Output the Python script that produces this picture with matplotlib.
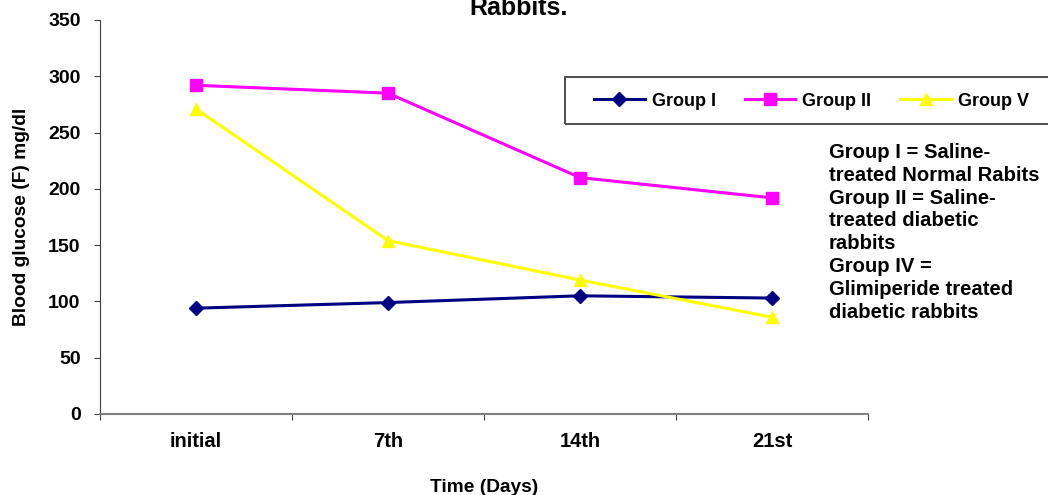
import matplotlib.pyplot as plt
from matplotlib.patches import Rectangle

plt.rcParams['font.family'] = ['Liberation Sans', 'DejaVu Sans']
plt.rcParams['font.weight'] = 'bold'

days = ['initial', '7th', '14th', '21st']
group_1 = [94, 99, 105, 103]
group_2 = [292, 285, 210, 192]
group_5 = [271, 154, 119, 86]

notes = ("Group I = Saline-\n"
         "treated Normal Rabits\n"
         "Group II = Saline-\n"
         "treated diabetic\n"
         "rabbits\n"
         "Group IV =\n"
         "Glimiperide treated\n"
         "diabetic rabbits")

W, H = 1048, 495
fig = plt.figure(figsize=(W / 100, H / 100), dpi=100)
ax = fig.add_axes([100 / W, 1 - 414 / H, 768 / W, 394 / H])

x = range(len(days))
ax.plot(x, group_1, color='#000080', marker='D', markersize=7, lw=2.2, label='Group I')
ax.plot(x, group_2, color='#FF00FF', marker='s', markersize=8, lw=2.2, label='Group II')
ax.plot(x, group_5, color='#FFFF00', marker='^', markersize=9, lw=2.2, label='Group V')

ax.set_xlim(-0.5, 3.5)
ax.set_ylim(0, 350)
ax.set_yticks(range(0, 351, 50))
# boundary ticks between categories, labels sit on the minor ticks
ax.set_xticks([-0.5, 0.5, 1.5, 2.5, 3.5])
ax.set_xticklabels([])
ax.set_xticks(list(x), minor=True)
ax.set_xticklabels(days, minor=True)
ax.tick_params(axis='x', which='minor', length=0, pad=13, labelsize=14.5)
ax.tick_params(axis='x', which='major', length=4, direction='out', color='#404040')
ax.tick_params(axis='y', length=4, direction='out', labelsize=14, color='#404040', pad=10)

for side in ['top', 'right']:
    ax.spines[side].set_visible(False)
ax.spines['left'].set_color('#404040')
ax.spines['bottom'].set_color('#808080')
ax.spines['bottom'].set_linewidth(1.5)

ax.set_xlabel('Time (Days)', fontsize=13.8, fontweight='bold', labelpad=20)
ax.set_ylabel('Blood glucose (F) mg/dl', fontsize=13.8, fontweight='bold', labelpad=13)

ax.legend(ncol=3, loc='center left', bbox_to_anchor=(585 / W, 1 - 101 / H),
          bbox_transform=fig.transFigure, fontsize=13, frameon=False,
          borderpad=0, handlelength=2.8, columnspacing=1.6, handletextpad=0.4)
fig.patches.append(Rectangle((565 / W, 1 - 124 / H), 0.5, 47 / H,
                             transform=fig.transFigure, fill=False,
                             edgecolor='#404040', lw=1.3))

# baseline of the last line of the note block
fig.text(829 / W, 1 - 318 / H, notes, fontsize=14.6, fontweight='bold',
         va='baseline', ha='left', linespacing=1.26,
         multialignment='left')

fig.text(519 / W, 1 - 15 / H, 'Rabbits.', fontsize=18, fontweight='bold',
         ha='center', va='baseline')

fig.savefig('out.png', dpi=100)
